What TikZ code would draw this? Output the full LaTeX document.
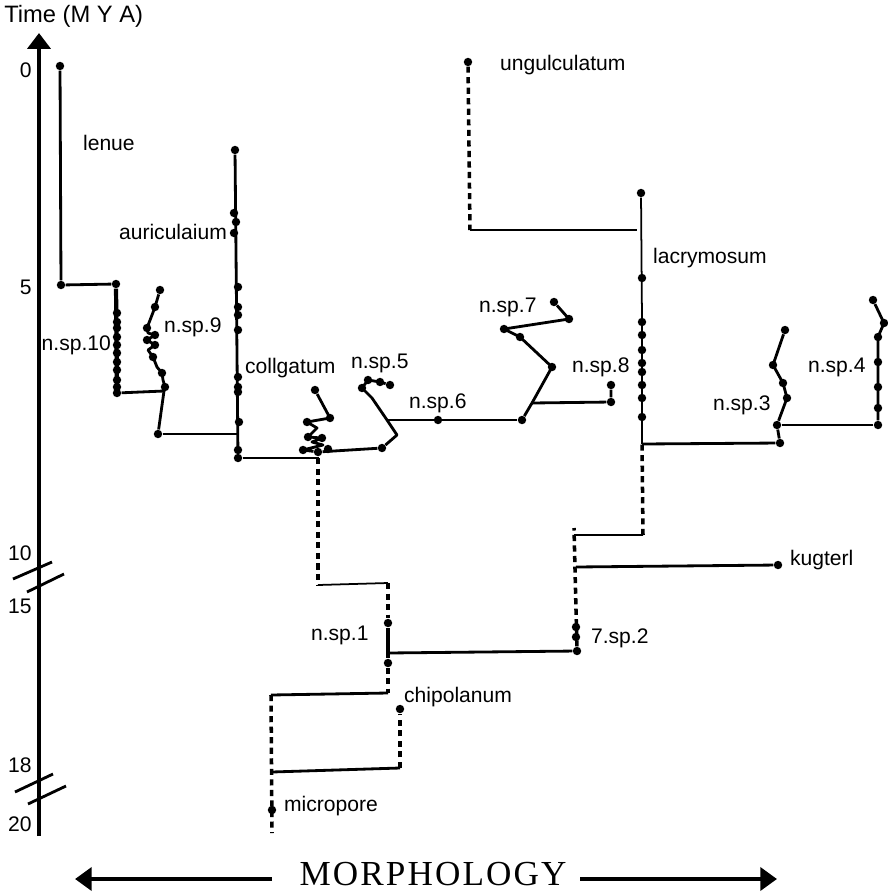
\documentclass[tikz,border=0pt]{standalone}
\usepackage{fontspec}
\setmainfont{Liberation Sans}
\newfontfamily\morphfont[LetterSpace=6]{Liberation Serif}
\usetikzlibrary{arrows.meta}

\begin{document}
\begin{tikzpicture}[
    x=0.02cm, y=-0.02cm,
    every node/.style={font=\fontsize{12}{14}\selectfont},
    dot/.style={circle, fill=black, inner sep=0pt, minimum size=4.8pt},
    lbl/.style={anchor=west, inner sep=1pt},
    lbr/.style={anchor=east, inner sep=1pt},
    lin/.style={line width=1.6pt, line join=round},
    fat/.style={line width=2.4pt},
    thn/.style={line width=1pt},
    dsh/.style={line width=2pt, dash pattern=on 3.5pt off 2.5pt},
    axis/.style={line width=2.8pt},
    brk/.style={line width=1.6pt},
    morph/.style={line width=2.8pt, -{Triangle[length=9.5pt, width=13pt]}}
]
\useasboundingbox (0,0) rectangle (888,893);

% time axis
\node[anchor=west, inner sep=0pt, font=\fontsize{13.5}{16}\selectfont] (ttl) at (4,16) {Time (M Y A)};
\coordinate (axbot) at (39,836);
\coordinate (axtop) at (39,33);
\draw[axis, -{Triangle[length=9pt, width=13pt]}] (axbot) -- (axtop);
\foreach \t/\y in {0/70, 5/287, 10/553, 15/606, 18/765, 20/824}
  \node[anchor=east, inner sep=0pt] (tick\t) at (32,\y) {\t};

% axis breaks
\draw[brk] (13,579) -- (52,562);
\draw[brk] (27,592) -- (64,574);
\draw[brk] (15,792) -- (53,774);
\draw[brk] (28,804) -- (66,786);

% lenue
\node[dot] (lenue) at (60,66) {};
\node[dot] (b1) at (61,285) {};
\node[dot] (b2) at (116,284) {};
\draw[lin] (lenue) -- (b1) -- (b2);
\node[lbl] (lenueL) at (81,143) {lenue};

% n.sp.10
\node[dot] (n10) at (117,393) {};
\draw[fat] (b2) -- (n10);
\foreach \y in {313,322,328,337,345,353,362,370,380,387}
  \node[dot] (d10-\y) at (117,\y) {};
\node[lbr] (n10L) at (113,345) {n.sp.10};

% n.sp.9
\coordinate (b3) at (164,391);
\node[dot] (n9) at (160,290) {};
\draw[lin] (n10) -- (b3);
\draw[lin] (b3) -- (165,387) -- (163,380) -- (162,373) -- (157,367) -- (153,357)
  -- (148,350) -- (155,345) -- (147,340) -- (155,335) -- (148,333) -- (147,328)
  -- (152,315) -- (155,307) -- (n9);
\foreach \p in {(165,387),(162,373),(153,357),(155,345),(147,340),(155,335),(147,328),(155,307)}
  \node[dot] at \p {};
\node[lbl] (n9L) at (162,327) {n.sp.9};
\node[dot] (b4) at (158,434) {};
\coordinate (b5) at (238,434);
\draw[lin] (b3) -- (b4);
\draw[lin] (b4) -- (b5);

% auriculaium / collgatum
\node[dot] (aur) at (235,150) {};
\node[dot] (b6) at (238,458) {};
\draw[lin] (aur) -- (b6);
\foreach \x/\y in {234/213, 236/222, 234/233, 238/287, 238/307, 238/315, 238/330,
                   238/377, 238/387, 238/392, 239/422, 238/450}
  \node[dot] (da-\y) at (\x,\y) {};
\node[lbr] (aurL) at (229,232) {auriculaium};
\node[lbl] (colL) at (243,368) {collgatum};
\coordinate (b7) at (318,458);
\draw[thn] (b6) -- (b7);

% collgatum zigzag
\node[dot] (col) at (315,390) {};
\node[dot] (b8) at (318,452) {};
\draw[lin] (col) -- (330,418) -- (307,422) -- (317,428) -- (308,437) -- (322,438)
  -- (312,442) -- (323,445) -- (303,450) -- (b8);
\foreach \p in {(330,418),(307,422),(308,437),(322,438),(303,450),(328,449)}
  \node[dot] at \p {};
\draw[lin] (b8) -- (b7);

% n.sp.5
\node[dot] (b9) at (382,448) {};
\coordinate (b10) at (387,420);
\draw[lin] (b8) -- (b9);
\node[dot] (n5) at (390,385) {};
\draw[lin] (b9) -- (397,435) -- (b10) -- (372,398) -- (362,388) -- (368,380)
  -- (380,382) -- (n5);
\foreach \p in {(362,388),(368,380),(380,382)}
  \node[dot] at \p {};
\node[lbl] (n5L) at (349,363) {n.sp.5};

% n.sp.6
\node[dot] (b11) at (522,420) {};
\node[dot] (n6) at (438,420) {};
\draw[lin] (b10) -- (b11);
\node[lbl] (n6L) at (407,403) {n.sp.6};

% n.sp.7
\coordinate (b12) at (532,403);
\node[dot] (n7) at (554,302) {};
\draw[lin] (b11) -- (b12) -- (552,367) -- (520,337) -- (504,329) -- (569,319) -- (n7);
\foreach \p in {(552,367),(520,337),(504,329),(569,319)}
  \node[dot] at \p {};
\node[lbl] (n7L) at (477,307) {n.sp.7};

% n.sp.8
\node[dot] (n8a) at (611,402) {};
\node[dot] (n8) at (611,385) {};
\draw[lin] (b12) -- (n8a) -- (n8);
\node[lbl] (n8L) at (570,367) {n.sp.8};

% ungulculatum
\node[dot] (ung) at (468,62) {};
\coordinate (b13) at (470,230);
\coordinate (b14) at (637,230);
\draw[dsh] (ung) -- (b13);
\draw[lin] (b13) -- (b14);
\node[lbl] (ungL) at (498,65) {ungulculatum};

% lacrymosum
\node[dot] (lac) at (641,193) {};
\coordinate (b15) at (642,444);
\coordinate (lacm) at (642,320);
\draw[thn] (lac) -- (lacm);
\draw[lin] (lacm) -- (b15);
\foreach \y in {278,322,335,350,363,372,385,398,417}
  \node[dot] (dl-\y) at (642,\y) {};
\node[lbl] (lacL) at (651,258) {lacrymosum};

% n.sp.3
\node[dot] (b16) at (780,443) {};
\node[dot] (b17) at (777,425) {};
\node[dot] (n3) at (785,330) {};
\draw[lin] (b15) -- (b16) -- (b17) -- (787,398) -- (783,383) -- (773,365) -- (n3);
\foreach \p in {(787,398),(783,383),(773,365)}
  \node[dot] at \p {};
\node[lbl] (n3L) at (711,405) {n.sp.3};

% n.sp.4
\node[dot] (b18) at (878,425) {};
\node[dot] (n4) at (873,300) {};
\draw[lin] (b17) -- (b18);
\draw[lin] (b18) -- (878,337) -- (884,323) -- (n4);
\foreach \p in {(878,408),(878,387),(878,362),(878,337),(884,323)}
  \node[dot] at \p {};
\node[lbl] (n4L) at (806,367) {n.sp.4};

% n.sp.1
\coordinate (b19) at (318,585);
\coordinate (b20) at (388,583);
\node[dot] (n1a) at (388,623) {};
\node[dot] (n1b) at (388,663) {};
\coordinate (b21) at (388,693);
\coordinate (b22) at (388,653);
\draw[dsh] (b7) -- (b19);
\draw[thn] (b19) -- (b20);
\draw[dsh] (b20) -- (n1a);
\draw[fat] (n1a) -- (n1b);
\draw[dsh] (n1b) -- (b21);
\node[lbl] (n1L) at (309,635) {n.sp.1};

% 7.sp.2 / kugterl
\node[dot] (b23) at (577,651) {};
\coordinate (b24) at (574,528);
\coordinate (b25) at (574,535);
\coordinate (b26) at (643,535);
\coordinate (b27) at (576,567);
\draw[lin] (b22) -- (b23);
\draw[dsh] (b23) -- (b24);
\foreach \y in {637,627}
  \node[dot] (ds-\y) at (576,\y) {};
\draw[lin] (b25) -- (b26);
\draw[dsh] (b26) -- (b15);
\node[dot] (kug) at (778,565) {};
\draw[lin] (b27) -- (kug);
\node[lbl] (kugL) at (788,560) {kugterl};
\node[lbl] (s2L) at (589,638) {7.sp.2};

% chipolanum / micropore
\coordinate (b28) at (271,695);
\coordinate (b29) at (272,833);
\coordinate (b30) at (272,772);
\coordinate (b31) at (400,768);
\node[dot] (chi) at (400,709) {};
\node[dot] (mic) at (272,810) {};
\draw[lin] (b21) -- (b28);
\draw[dsh] (b28) -- (b29);
\draw[lin] (b30) -- (b31);
\draw[dsh] (b31) -- (chi);
\node[lbl] (chiL) at (402,697) {chipolanum};
\node[lbl] (micL) at (282,806) {micropore};

% morphology axis
\node[inner sep=0pt, font=\morphfont\fontsize{20}{21}\selectfont] (morph) at (433,874) {MORPHOLOGY};
\coordinate (mLs) at (272,879);
\coordinate (mL) at (75,879);
\coordinate (mRs) at (580,879);
\coordinate (mR) at (777,879);
\draw[morph] (mLs) -- (mL);
\draw[morph] (mRs) -- (mR);

\end{tikzpicture}
\end{document}
